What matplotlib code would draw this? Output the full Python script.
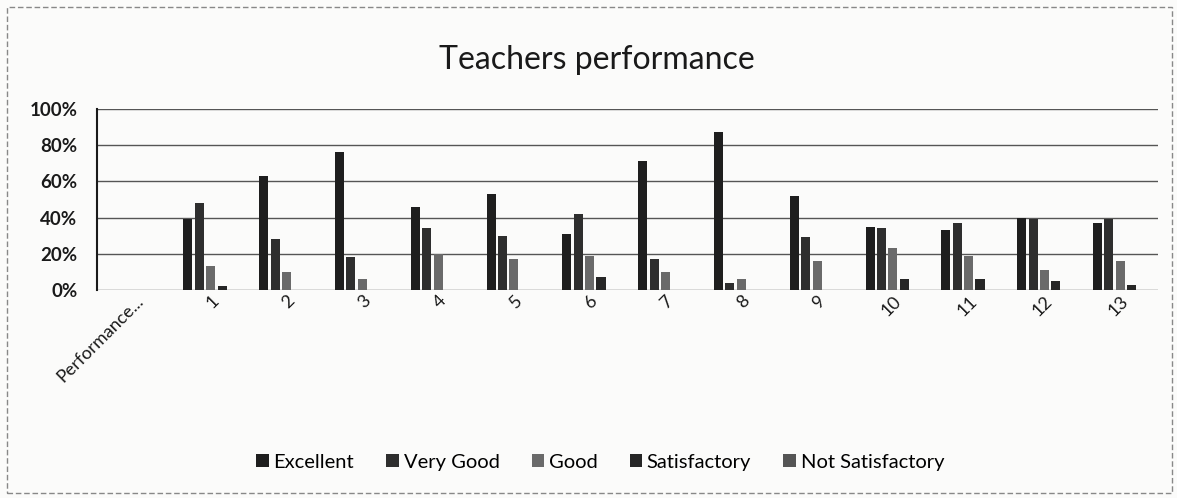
import matplotlib.pyplot as plt
import numpy as np
from matplotlib.patches import Rectangle

plt.rcParams['font.family'] = ['Lato', 'DejaVu Sans']

categories = ['Performance...', '1', '2', '3', '4', '5', '6', '7', '8', '9', '10', '11', '12', '13']
excellent = [0, 39, 63, 76, 46, 53, 31, 71, 87, 52, 35, 33, 40, 37]
very_good = [0, 48, 28, 18, 34, 30, 42, 17, 4, 29, 34, 37, 39, 39]
good = [0, 13, 10, 6, 20, 17, 19, 10, 6, 16, 23, 19, 11, 16]
satisfactory = [0, 2, 0, 0, 0, 0, 7, 0, 0, 0, 6, 6, 5, 3]
not_satisfactory = [0, 0, 0, 0, 0, 0, 0, 0, 0, 0, 0, 0, 0, 0]

series = [excellent, very_good, good, satisfactory, not_satisfactory]
names = ['Excellent', 'Very Good', 'Good', 'Satisfactory', 'Not Satisfactory']
colors = ['#1e1e1e', '#2e2e2e', '#6a6a6a', '#262626', '#555555']

fig = plt.figure(figsize=(11.77, 4.98), dpi=100)
fig.patch.set_facecolor('#fbfbfa')
ax = fig.add_axes([0.0824, 0.4177, 0.9016, 0.3635])
ax.set_facecolor('#fbfbfa')

x = np.arange(len(categories))
step = 0.15
for i, (vals, nm, c) in enumerate(zip(series, names, colors)):
    ax.bar(x + (i - 2) * step, vals, width=0.12, color=c, label=nm, zorder=3)

ax.set_xlim(-0.5, len(categories) - 0.5)
ax.set_ylim(0, 100)
ax.set_yticks(np.arange(0, 101, 20))
ax.set_yticklabels([f'{v}%' for v in range(0, 101, 20)], fontsize=13.5, fontweight='bold', color='#1a1a1a')
ax.yaxis.grid(True, color='#555555', linewidth=1.0, zorder=0)
ax.tick_params(axis='y', length=0, pad=14)
ax.tick_params(axis='x', length=0, pad=2)
ax.set_xticks(x)
ax.set_xticklabels(categories, rotation=45, ha='right', rotation_mode='anchor',
                   fontsize=13, color='#1a1a1a')
for s in ['top', 'right', 'bottom']:
    ax.spines[s].set_visible(False)
ax.spines['left'].set_color('#1a1a1a')
ax.spines['left'].set_linewidth(1.5)

fig.text(0.507, 0.88, 'Teachers performance', ha='center', va='center', fontsize=23, color='#1a1a1a')

leg = fig.legend(loc='center', bbox_to_anchor=(0.51, 0.072), ncol=5, frameon=False,
                 fontsize=14.5, handlelength=0.6, handleheight=0.6, handletextpad=0.25,
                 columnspacing=1.6)

fig.add_artist(Rectangle((0.006, 0.01), 0.99, 0.975, transform=fig.transFigure,
                         fill=False, edgecolor='#888888', linewidth=1.0, linestyle=(0, (4, 2))))

plt.savefig('out.png', dpi=100, facecolor=fig.get_facecolor())
